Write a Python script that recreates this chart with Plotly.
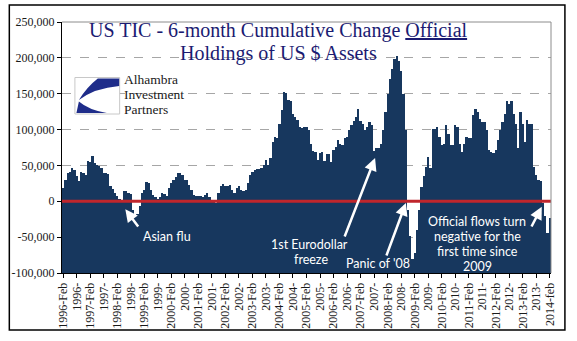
import plotly.graph_objects as go

# ---------------- data ----------------
MONTH_NAMES = ["Jan", "Feb", "Mar", "Apr", "May", "Jun",
               "Jul", "Aug", "Sep", "Oct", "Nov", "Dec"]
START_YEAR, START_MONTH = 1996, 2   # 1996-Feb
N_MONTHS = 217                       # through 2014-Feb

CATEGORIES = []
for k in range(N_MONTHS):
    m = START_MONTH - 1 + k
    CATEGORIES.append(f"{START_YEAR + m // 12}-{MONTH_NAMES[m % 12]}")

# 6-month cumulative change, official holdings ($ mn), Feb..Jan blocks
V_1996 = [18000, 30000, 40000, 41000, 47000, 43000, 35000, 28000, 41000, 39000, 37000, 56000]
V_1997 = [55000, 63000, 53000, 51000, 49000, 46000, 39000, 39000, 38000, 21000, 17000, 11000]
V_1998 = [7000, 3000, 1000, 14500, 14000, 12000, 10000, -12000, -20000, -18000, -6000, 11000]
V_1999 = [16000, 27500, 25000, 16000, 9000, 5800, 3000, 5800, 11000, 10000, 7500, 18000]
V_2000 = [25000, 29000, 34000, 39500, 40000, 37000, 30000, 30000, 23000, 16000, 9000, 7000]
V_2001 = [7000, 7000, 6000, 9000, 11500, 6000, 2300, 1400, -2000, 11500, 21000, 24500]
V_2002 = [21000, 22000, 23000, 16000, 11500, 18500, 22000, 16000, 14000, 16000, 25000, 37000]
V_2003 = [41500, 44000, 45000, 45000, 46000, 51000, 57700, 51000, 61000, 83000, 90000, 87700]
V_2004 = [108000, 127000, 152000, 151000, 141000, 140000, 122000, 117700, 113000, 104000, 101600, 104000]
V_2005 = [103000, 100000, 80000, 70000, 69000, 58000, 68000, 69000, 56000, 66000, 66000, 55000]
V_2006 = [72000, 76000, 85000, 80000, 78000, 88000, 90000, 100000, 106000, 112000, 118000, 129000]
V_2007 = [112000, 108000, 100000, 104000, 110000, 106000, 70000, 74000, 75000, 80000, 100000, 125000]
V_2008 = [150000, 170000, 185000, 198000, 203000, 195000, 182000, 150000, 100000, -12000, -48000, -80000]
V_2009 = [-72000, -40000, -12000, 20000, 35000, 48000, 62000, 46000, 101000, 101000, 104000, 90000]
V_2010 = [78000, 80000, 106000, 94000, 78000, 78000, 106000, 104000, 80000, 69000, 80000, 90000]
V_2011 = [88000, 88000, 120000, 129000, 124000, 115000, 110000, 110000, 99000, 71000, 69000, 67000]
V_2012 = [71000, 85000, 100000, 110000, 122000, 140000, 136000, 140000, 122000, 108000, 75000, 124000]
V_2013 = [108000, 83000, 114000, 108000, 108000, 48000, 37000, 30000, 28000, -2000, -20000, -44000]
V_2014 = [-23000]

VALUES = (V_1996 + V_1997 + V_1998 + V_1999 + V_2000 + V_2001 + V_2002 + V_2003 +
          V_2004 + V_2005 + V_2006 + V_2007 + V_2008 + V_2009 + V_2010 + V_2011 +
          V_2012 + V_2013 + V_2014)

TICK_LABELS = ["1996-Feb", "1996-", "1997-Feb", "1997-", "1998-Feb", "1998-",
               "1999-Feb", "1999-", "2000-Feb", "2000-", "2001-Feb", "2001-",
               "2002-Feb", "2002-", "2003-Feb", "2003-", "2004-Feb", "2004-",
               "2005-Feb", "2005-", "2006-Feb", "2006-", "2007-Feb", "2007-",
               "2008-Feb", "2008-", "2009-Feb", "2009-", "2010-Feb", "2010-",
               "2011-Feb", "2011-", "2012-Feb", "2012-", "2013-Feb", "2013-",
               "2014-feb"]
TICK_STEP = 6

Y_MIN, Y_MAX = -100000, 250000
Y_TICKS = [-100000, -50000, 0, 50000, 100000, 150000, 200000, 250000]
Y_TICK_TEXT = ["-100,000", "-50,000", "0", "50,000", "100,000", "150,000", "200,000", "250,000"]

# ---------------- styling ----------------
W, H = 577, 341
ML, MR, MT, MB = 59, 26, 22, 68
PW, PH = W - ML - MR, H - MT - MB
NAVY = "#17375E"
RED = "#C0262C"
TITLE_BLUE = "#1B1B72"
LOGO_BLUE = "#1F2D8A"
SERIF = "Liberation Serif, Times New Roman, serif"
SANS = "Lato, Open Sans, sans-serif"


def X(px):
    return (px - ML) / PW


def Y(py):
    return (MT + PH - py) / PH


fig = go.Figure()
fig.add_trace(go.Bar(
    x=CATEGORIES,
    y=[v - Y_MIN for v in VALUES],
    base=Y_MIN,
    marker=dict(color=NAVY, line=dict(width=0)),
    hoverinfo="skip",
))

shapes = []
# zero line
shapes.append(dict(type="line", xref="paper", yref="y", x0=0, x1=1, y0=0, y1=0,
                   line=dict(color=RED, width=3), layer="above"))
# plot-area top and right borders (gray)
shapes.append(dict(type="line", xref="paper", yref="paper", x0=0, x1=1, y0=1, y1=1,
                   line=dict(color="#8C8C8C", width=1), layer="above"))
shapes.append(dict(type="line", xref="paper", yref="paper", x0=1, x1=1, y0=0, y1=1,
                   line=dict(color="#8C8C8C", width=1), layer="above"))
# outer chart border
shapes.append(dict(type="rect", xref="paper", yref="paper",
                   x0=X(6), x1=X(565), y0=Y(330), y1=Y(5),
                   line=dict(color="black", width=1.5), layer="above"))
# logo box
shapes.append(dict(type="rect", xref="paper", yref="paper",
                   x0=X(72), x1=X(117), y0=Y(114), y1=Y(77.5),
                   fillcolor="white", line=dict(color="#C8C8C8", width=1), layer="above"))


def path(cmds):
    out = []
    for c in cmds:
        if c == "Z":
            out.append("Z")
        else:
            op, pts = c[0], c[1:]
            out.append(op + " " + " ".join(f"{X(px):.5f},{Y(py):.5f}" for px, py in pts))
    return " ".join(out)


shapes.append(dict(type="path", xref="paper", yref="paper", layer="above",
                   path=path([("M", (95, 78.5)), ("L", (116.5, 78.5)), ("L", (116.5, 86)),
                              ("Q", (92, 88), (76, 100)),
                              ("Q", (84, 87), (95, 78.5)), "Z"]),
                   fillcolor=LOGO_BLUE, line=dict(width=0)))
shapes.append(dict(type="path", xref="paper", yref="paper", layer="above",
                   path=path([("M", (73.5, 113)), ("L", (76, 101.5)),
                              ("Q", (86, 110), (104, 113)), "Z"]),
                   fillcolor=LOGO_BLUE, line=dict(width=0)))

annotations = []


def text(s, px, py, size, color, family, xanchor="center"):
    annotations.append(dict(text=s, x=X(px), y=Y(py), xref="paper", yref="paper",
                            xanchor=xanchor, yanchor="middle", showarrow=False,
                            borderpad=0, font=dict(size=size, color=color, family=family)))


def arrow(tip, tail):
    annotations.append(dict(text="", x=X(tip[0]), y=Y(tip[1]), xref="paper", yref="paper",
                            ax=tail[0] - tip[0], ay=tail[1] - tip[1],
                            showarrow=True, arrowhead=2, arrowsize=1, arrowwidth=2.5,
                            arrowcolor="white", standoff=0))


# title
text("US TIC - 6-month Cumulative Change <u>Official</u>", 276.5, 31, 20, TITLE_BLUE, SERIF)
text("Holdings of US $ Assets", 276.5, 53, 20, TITLE_BLUE, SERIF)
# logo words
text("Alhambra", 120.5, 79.5, 13.5, "#1A1A1A", SERIF, "left")
text("Investment", 120.5, 94.5, 13.5, "#1A1A1A", SERIF, "left")
text("Partners", 120.5, 109.5, 13.5, "#1A1A1A", SERIF, "left")

# callouts
CALLOUT = 12.5
text("Asian flu", 165, 236, CALLOUT, "white", SANS)
arrow((122.7, 209.3), (136.7, 228))
text("1st Eurodollar", 308, 244.5, CALLOUT, "white", SANS)
text("freeze", 310, 259.5, CALLOUT, "white", SANS)
arrow((374, 158), (343, 238))
text("Panic of '08", 377, 263, CALLOUT, "white", SANS)
arrow((405, 203), (385, 257))
text("Official flows turn", 477, 221.9, CALLOUT, "white", SANS)
text("negative for the", 477, 236.9, CALLOUT, "white", SANS)
text("first time since", 477, 251.9, CALLOUT, "white", SANS)
text("2009", 477, 266.9, CALLOUT, "white", SANS)
arrow((541.7, 206.7), (530.7, 228))

fig.update_layout(
    width=W, height=H,
    margin=dict(l=ML, r=MR, t=MT, b=MB, pad=0),
    paper_bgcolor="white", plot_bgcolor="white",
    bargap=0, showlegend=False,
    shapes=shapes, annotations=annotations,
    xaxis=dict(type="category", range=[-0.5, N_MONTHS - 0.5],
               tickvals=CATEGORIES[::TICK_STEP], ticktext=TICK_LABELS,
               tickangle=-90, tickfont=dict(family=SERIF, size=12, color="#1A1A1A"),
               ticks="outside", ticklen=4, tickcolor="black",
               showline=True, linecolor="black", linewidth=1,
               showgrid=False, fixedrange=True),
    yaxis=dict(range=[Y_MIN, Y_MAX], tickvals=Y_TICKS, ticktext=Y_TICK_TEXT,
               tickfont=dict(family=SERIF, size=12, color="#1A1A1A"),
               ticks="outside", ticklen=4, tickcolor="black",
               showline=True, linecolor="black", linewidth=1,
               showgrid=True, gridcolor="#A6A6A6", griddash="dash", gridwidth=1,
               zeroline=False, fixedrange=True),
)

fig.write_html("out.html")
